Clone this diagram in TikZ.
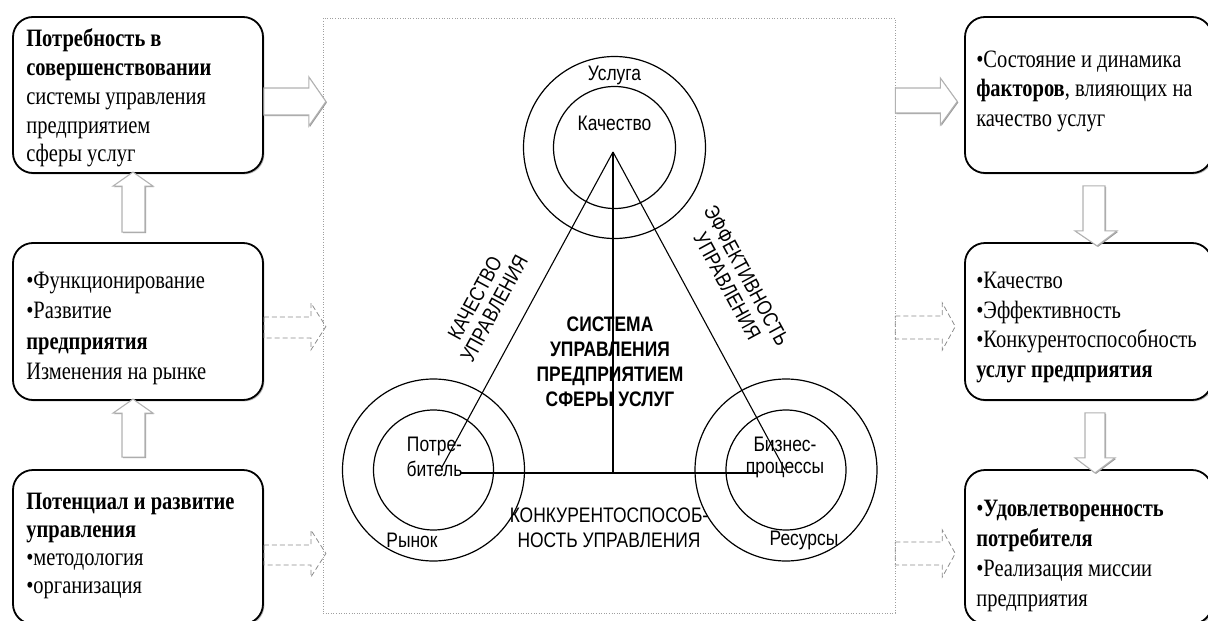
\documentclass[tikz,border=0pt]{standalone}
\usepackage{fontspec}
\setmainfont{Liberation Serif}[FakeStretch=0.82]
\setsansfont{Liberation Sans}[FakeStretch=0.83]
\usetikzlibrary{calc,shadows}
\begin{document}
\begin{tikzpicture}[x=1pt,y=-1pt,
  infobox/.style={draw=black, line width=1.8pt, rounded corners=20pt, fill=white,
    minimum width=#1, minimum height=156pt, inner sep=0pt,
    drop shadow={shadow xshift=1.4pt, shadow yshift=-1.4pt, fill=gray!55, opacity=1}},
  boxtext/.style={font=\fontsize{25}{#1}\selectfont, align=left, inner sep=0pt},
  blockarrow/.style={draw=gray!60, line width=1.1pt, fill=white,
    drop shadow={shadow xshift=1pt, shadow yshift=-1pt, fill=gray!80, opacity=1}},
  dasharrow/.style={draw=gray!90, line width=0.8pt, dash pattern=on 5pt off 3pt},
  ring/.style={circle, draw=black, line width=1.2pt, inner sep=0pt},
  edge/.style={draw=black, line width=1.1pt},
  lbl/.style={font=\sffamily\fontsize{21}{#1}\selectfont, align=center, inner sep=0pt},
  lbl/.default=22
]
\useasboundingbox (0,0) rectangle (1208,621);
\clip (0,0) rectangle (1208,621);

% central dotted frame
\node[draw=gray!75, dotted, line width=0.6pt, minimum width=572pt, minimum height=595pt,
      inner sep=0pt] (frame) at (609,315.5) {};

% side boxes
\node[infobox=250pt] (L1) at (138,95) {};
\node[infobox=250pt, minimum height=157pt] (L2) at (138,321.5) {};
\node[infobox=250pt, minimum height=154pt] (L3) at (138,547) {};
\node[infobox=247pt] (R1) at (1088.5,95) {};
\node[infobox=247pt, minimum height=157pt] (R2) at (1088.5,321.5) {};
\node[infobox=247pt, minimum height=154pt] (R3) at (1088.5,547) {};

\node[boxtext=28.75, anchor=west] (L1t) at ($(L1.west)+(14,3)$)
  {\textbf{Потребность в}\\\textbf{совершенствовании}\\системы управления\\предприятием\\сферы услуг};
\node[boxtext=30.5, anchor=west] (L2t) at ($(L2.west)+(14,7)$)
  {•Функционирование\\•Развитие\\\textbf{предприятия}\\Изменения на рынке};
\node[boxtext=28, anchor=west] (L3t) at ($(L3.west)+(14,-1)$)
  {\textbf{Потенциал и развитие}\\\textbf{управления}\\•методология\\•организация};
\node[boxtext=29.5, anchor=west] (R1t) at ($(R1.west)+(12,-4)$)
  {•Состояние и динамика\\\textbf{факторов}, влияющих на\\качество услуг};
\node[boxtext=29.5, anchor=west] (R2t) at ($(R2.west)+(12,6)$)
  {•Качество\\•Эффективность\\•Конкурентоспособность\\\textbf{услуг предприятия}};
\node[boxtext=30.3, anchor=west] (R3t) at ($(R3.west)+(12,9)$)
  {•\textbf{Удовлетворенность}\\\textbf{потребителя}\\•Реализация миссии\\предприятия};

% solid block arrows
\draw[blockarrow] ($(L1.east)+(0,-7)$) -- ++(45,0) -- ++(0,-11) -- ++(17,24.5)
  -- ++(-17,24.5) -- ++(0,-11) -- ++(-45,0) -- cycle;
\draw[blockarrow] ($(frame.east |- R1.east)+(0,-7)$) -- ++(45,0) -- ++(0,-10) -- ++(17,23.5)
  -- ++(-17,23.5) -- ++(0,-12) -- ++(-45,0) -- cycle;
\draw[blockarrow] ($(L2.north)+(-16,-10)$) -- ++(0,-46) -- ++(-9,0) -- ++(20,-14)
  -- ++(20,14) -- ++(-8,0) -- ++(0,46) -- cycle;
\draw[blockarrow] ($(L3.north)+(-16,-12)$) -- ++(0,-44) -- ++(-9,0) -- ++(20,-14)
  -- ++(20,14) -- ++(-8,0) -- ++(0,44) -- cycle;
\draw[blockarrow] ($(R1.south)+(-5.5,12)$) -- ++(22,0) -- ++(0,45) -- ++(12,0)
  -- ++(-20,15) -- ++(-22,-15) -- ++(8,0) -- cycle;
\draw[blockarrow] ($(R2.south)+(-3.5,12)$) -- ++(20,0) -- ++(0,45) -- ++(10,0)
  -- ++(-20,15) -- ++(-20,-15) -- ++(10,0) -- cycle;

% dashed block arrows
\draw[dasharrow] ($(L2.east)+(0,-4.5)$) -- ++(47,0) -- ++(0,-14) -- ++(15,23.5)
  -- ++(-15,23.5) -- ++(0,-12) -- ++(-47,0) -- cycle;
\draw[dasharrow] ($(L3.east)+(0,-2)$) -- ++(47,0) -- ++(0,-15) -- ++(15,23.5)
  -- ++(-15,23.5) -- ++(0,-12) -- ++(-47,0) -- cycle;
\draw[dasharrow] ($(frame.east |- R2.east)+(0,-5.5)$) -- ++(47,0) -- ++(0,-13) -- ++(13,23.5)
  -- ++(-13,23.5) -- ++(0,-11) -- ++(-47,0) -- cycle;
\draw[dasharrow] ($(frame.east |- R3.east)+(0,-5)$) -- ++(47,0) -- ++(0,-12) -- ++(13,23.5)
  -- ++(-13,23.5) -- ++(0,-12) -- ++(-47,0) -- cycle;

% rings
\node[ring, minimum size=182pt] (topO) at (614.5,147.5) {};
\node[ring, minimum size=122pt] (topI) at (614.5,147.5) {};
\node[ring, minimum size=182pt] (leftO) at (433.5,470) {};
\node[ring, minimum size=120pt] (leftI) at (433.5,470) {};
\node[ring, minimum size=182pt] (rightO) at (786,470) {};
\node[ring, minimum size=120pt] (rightI) at (786,470) {};

% triangle and axes
\coordinate (apex) at (613,152);
\coordinate (vL) at (442,467);
\coordinate (vR) at (785,470);
\coordinate (foot) at (613,473);
\coordinate (hL) at (460,473);
\coordinate (hR) at (757,473);
\draw[edge] (apex) -- (vL);
\draw[edge] (apex) -- (vR);
\draw[edge] (apex) -- (foot);
\draw[edge] (hL) -- (hR);

% labels
\node[lbl, anchor=base] (usluga) at (614.5,80) {Услуга};
\node[lbl, anchor=base] (kach) at (614.5,130) {Качество};
\node[lbl=25] (potr) at (434.5,457) {Потре-\\битель};
\node[lbl=22] (biz) at (785,457) {Бизнес-\\процессы};
\node[lbl, anchor=base] (rynok) at (412,547) {Рынок};
\node[lbl, anchor=base] (res) at (804,545) {Ресурсы};
\node[lbl=25] (konk) at (609,528) {КОНКУРЕНТОСПОСОБ-\\НОСТЬ УПРАВЛЕНИЯ};
\node[lbl=25, font=\sffamily\bfseries\fontsize{21}{25}\selectfont] (sys) at (610,362)
  {СИСТЕМА\\УПРАВЛЕНИЯ\\ПРЕДПРИЯТИЕМ\\СФЕРЫ УСЛУГ};
\node[lbl, rotate=61.5] (kachupr) at (484.5,303.5) {КАЧЕСТВО\\УПРАВЛЕНИЯ};
\node[lbl, rotate=-61.5] (effupr) at (737,281) {ЭФФЕКТИВНОСТЬ\\УПРАВЛЕНИЯ};
\end{tikzpicture}
\end{document}
